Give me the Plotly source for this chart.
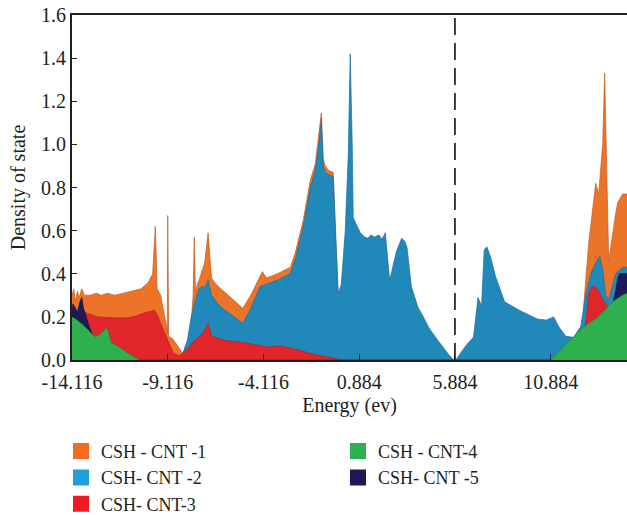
import plotly.graph_objects as go

# Density of states for five CSH-CNT configurations (energy in eV)
energy_cnt1 = [-14.116, -14.023, -13.931, -13.838, -13.746, -13.607, -13.468, -13.190, -12.820, -12.588,
               -12.264, -11.894, -11.431, -10.968, -10.505, -10.134, -9.903, -9.764, -9.671, -9.486,
               -9.301, -9.162, -9.139, -9.116, -9.068, -8.875, -8.634, -8.333, -8.092, -7.911,
               -7.791, -7.730, -7.670, -7.429, -7.188, -7.008, -6.827, -6.586, -5.803, -5.200,
               -4.779, -4.417, -4.176, -3.960, -3.387, -2.710, -2.449, -2.033, -1.668, -1.408,
               -1.199, -1.095, -0.991, -0.887, -0.731, -0.470, -0.366, -0.210, 3.214, 4.350,
               5.486, 12.503, 12.607, 12.764, 12.868, 13.077, 13.234, 13.391, 13.495, 13.600,
               13.704, 13.808, 13.913, 14.017, 14.122, 14.279, 14.383, 14.644, 14.87]
dos_cnt1 = [0.30, 0.33, 0.27, 0.32, 0.29, 0.33, 0.30, 0.30, 0.31, 0.30,
            0.31, 0.30, 0.31, 0.32, 0.33, 0.36, 0.40, 0.62, 0.33, 0.30,
            0.22, 0.15, 0.12, 0.67, 0.11, 0.10, 0.07, 0.03, 0.08, 0.15,
            0.30, 0.57, 0.32, 0.38, 0.45, 0.59, 0.38, 0.35, 0.29, 0.24,
            0.30, 0.37, 0.41, 0.38, 0.40, 0.43, 0.50, 0.65, 0.835, 0.91,
            1.05, 1.145, 0.93, 0.90, 0.88, 0.87, 0.60, 0.28, 0.20, 0.12,
            0.0, 0.0, 0.25, 0.42, 0.54, 0.70, 0.82, 0.77, 0.90, 1.00,
            1.33, 0.93, 0.46, 0.52, 0.59, 0.68, 0.73, 0.77, 0.77]

energy_cnt2 = [-8.514, -8.333, -8.092, -7.911, -7.730, -7.490, -7.309, -7.128, -7.008, -6.827,
               -6.405, -5.803, -5.200, -4.779, -4.297, -4.012, -3.387, -2.710, -2.449, -2.033,
               -1.668, -1.408, -1.199, -1.095, -0.991, -0.887, -0.731, -0.470, -0.314, -0.210,
               -0.054, 0.155, 0.311, 0.415, 0.520, 0.572, 0.780, 0.941, 1.168, 1.339,
               1.509, 1.679, 1.907, 2.077, 2.248, 2.475, 2.816, 2.986, 3.100, 3.270,
               3.384, 3.611, 3.952, 4.236, 4.520, 4.918, 5.316, 5.600, 5.827, 5.930,
               6.162, 6.486, 6.856, 6.995, 7.088, 7.273, 7.412, 7.551, 7.736, 8.014,
               8.477, 9.264, 9.727, 10.190, 10.653, 11.041, 11.302, 11.667, 12.085, 12.451,
               12.712, 12.973, 13.234, 13.443, 13.600, 13.756, 13.913, 14.122, 14.279, 14.644,
               14.87]
dos_cnt2 = [0.0, 0.03, 0.09, 0.19, 0.26, 0.33, 0.34, 0.34, 0.37, 0.30,
            0.25, 0.21, 0.17, 0.24, 0.34, 0.35, 0.37, 0.40, 0.47, 0.62,
            0.80, 0.88, 1.02, 1.12, 0.90, 0.87, 0.86, 0.85, 0.55, 0.31,
            0.35, 0.60, 0.95, 1.42, 1.00, 0.66, 0.62, 0.59, 0.57, 0.565,
            0.58, 0.57, 0.58, 0.56, 0.59, 0.37, 0.50, 0.54, 0.565, 0.55,
            0.52, 0.34, 0.245, 0.20, 0.15, 0.10, 0.05, 0.02, 0.0, 0.0,
            0.03, 0.07, 0.107, 0.22, 0.29, 0.25, 0.51, 0.525, 0.48, 0.385,
            0.27, 0.23, 0.21, 0.19, 0.185, 0.20, 0.155, 0.11, 0.105, 0.155,
            0.30, 0.40, 0.45, 0.48, 0.42, 0.30, 0.28, 0.35, 0.40, 0.43,
            0.43]

energy_cnt3 = [-14.116, -13.746, -13.422, -13.051, -12.773, -11.894, -11.199, -10.736, -10.273, -9.810,
               -9.671, -9.486, -9.209, -8.815, -8.514, -8.333, -7.911, -7.730, -7.309, -7.008,
               -6.827, -6.104, -5.080, -3.908, -3.231, -2.710, -2.189, -1.668, -0.887, -0.470,
               0.051, 12.451, 12.555, 12.712, 12.868, 13.025, 13.234, 13.443, 13.600, 13.860,
               14.017, 14.279, 14.87]
dos_cnt3 = [0.20, 0.22, 0.22, 0.21, 0.20, 0.195, 0.195, 0.205, 0.22, 0.23,
            0.21, 0.17, 0.11, 0.03, 0.02, 0.03, 0.07, 0.09, 0.12, 0.17,
            0.11, 0.09, 0.08, 0.06, 0.065, 0.056, 0.045, 0.03, 0.015, 0.01,
            0.0, 0.0, 0.13, 0.17, 0.31, 0.34, 0.34, 0.31, 0.28, 0.25,
            0.22, 0.20, 0.20]

energy_cnt4 = [-14.116, -13.931, -13.514, -13.190, -12.912, -12.635, -12.310, -12.218, -12.079, -11.662,
               -11.199, -10.597, 10.884, 11.667, 12.555, 13.234, 13.600, 14.017, 14.279, 14.644,
               14.87]
dos_cnt4 = [0.20, 0.19, 0.16, 0.13, 0.107, 0.12, 0.15, 0.13, 0.08, 0.06,
            0.03, 0.0, 0.0, 0.07, 0.15, 0.19, 0.22, 0.26, 0.28, 0.30,
            0.31]

energy_cnt5 = [-14.116, -14.069, -13.931, -13.838, -13.699, -13.607, -13.514, -13.375, -13.236, -13.051,
               -12.959, -12.912, 14.122, 14.174, 14.279, 14.383, 14.488, 14.87]
dos_cnt5 = [0.22, 0.26, 0.24, 0.22, 0.27, 0.29, 0.24, 0.20, 0.16, 0.12,
            0.10, 0.0, 0.0, 0.28, 0.32, 0.38, 0.40, 0.40]

series_names = ["CSH - CNT -1", "CSH- CNT -2", "CSH- CNT-3", "CSH - CNT-4", "CSH- CNT -5"]
fill_colors = ["#EC7428", "#2189BA", "#E0262A", "#2EB04F", "#1E1A5A"]
edge_colors = ["#C65A22", "#1A6E98", "#B81E22", "#24903F", "#15123F"]
legend_colors = ["#F26B21", "#1FA0DA", "#ED1C24", "#2BB24C", "#1E1858"]

x_tick_values = [-14.116, -9.116, -4.116, 0.884, 5.884, 10.884]
x_tick_labels = ["-14.116", "-9.116", "-4.116", "0.884", "5.884", "10.884"]
fermi_level = 5.884

energies = [energy_cnt1, energy_cnt2, energy_cnt3, energy_cnt4, energy_cnt5]
densities = [dos_cnt1, dos_cnt2, dos_cnt3, dos_cnt4, dos_cnt5]

fig = go.Figure()

# Overlapping filled areas, drawn back to front (CNT-4 sits in front of CNT-5)
draw_order = [0, 1, 2, 4, 3]
for i in draw_order:
    fig.add_trace(go.Scatter(
        x=energies[i], y=densities[i], mode="lines", fill="tozeroy",
        fillcolor=fill_colors[i], line=dict(color=edge_colors[i], width=0.7),
        showlegend=False, hoverinfo="skip",
    ))

# Square legend swatches, arranged in two columns
legend_order = [0, 3, 1, 4, 2]
for i in legend_order:
    fig.add_trace(go.Scatter(
        x=[None], y=[None], mode="markers", name=series_names[i],
        marker=dict(symbol="square", size=16, color=legend_colors[i]),
    ))

fig.add_shape(
    type="line", xref="x", yref="paper", x0=fermi_level, x1=fermi_level, y0=0, y1=1,
    line=dict(color="#111111", width=1.6, dash="17px,8px"),
)

axis_font = dict(family="Liberation Serif", size=20, color="#231F20")

fig.update_layout(
    width=627, height=515,
    margin=dict(l=72, r=0, t=15, b=155),
    paper_bgcolor="white", plot_bgcolor="white",
    font=axis_font,
    xaxis=dict(
        range=[-14.116, 14.87], tickvals=x_tick_values, ticktext=x_tick_labels,
        ticks="inside", ticklen=6, tickwidth=1.2, tickcolor="#231F20",
        showline=True, linecolor="#231F20", linewidth=2, mirror=True,
        showgrid=False, zeroline=False, tickfont=axis_font, ticklabelstandoff=3,
        title=dict(text="Energy (ev)", font=axis_font, standoff=6),
    ),
    yaxis=dict(
        range=[0, 1.6], dtick=0.2, tickformat=".1f",
        ticks="inside", ticklen=5, tickwidth=1.2, tickcolor="#231F20",
        showline=True, linecolor="#231F20", linewidth=2,
        showgrid=False, zeroline=False, tickfont=axis_font,
        title=dict(text="Density of state", font=axis_font, standoff=10),
    ),
    legend=dict(
        orientation="h", x=0.0973, xanchor="left", xref="container",
        y=0.1595, yanchor="top", yref="container",
        entrywidth=232, entrywidthmode="pixels",
        font=dict(family="Liberation Serif", size=18, color="#231F20"),
        tracegroupgap=0, itemsizing="trace",
    ),
)

fig.write_html("out.html")
